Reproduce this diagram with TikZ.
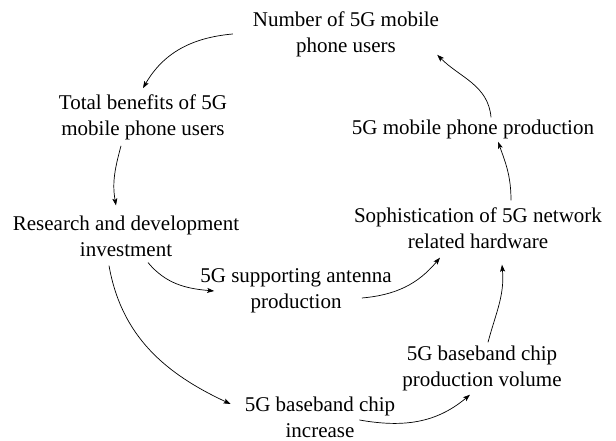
\documentclass[tikz,border=0pt]{standalone}
\usepackage{fontspec}
\setmainfont{Liberation Serif}
\usepackage[]{tikz}
\usetikzlibrary{arrows.meta}

\begin{document}
\begin{tikzpicture}[x=1pt,y=-1pt,
            lbl/.style={align=center,inner sep=0pt,font=\fontsize{21}{26}\selectfont},
            arr/.style={-{Stealth[length=7pt,width=5pt,inset=1.5pt]},line width=0.7pt}]
            \useasboundingbox (0,0) rectangle (616,441);
            \node[lbl] (users) at (346,34) {Number of 5G mobile\\phone users};
            \node[lbl] (benefit) at (143,117) {Total benefits of 5G\\mobile phone users};
            \node[lbl] (invest) at (126,236) {Research and development\\investment};
            \node[lbl] (antenna) at (296,291) {5G supporting antenna\\production};
            \node[lbl] (hardware) at (478,228) {Sophistication of 5G network\\related hardware};
            \node[lbl] (phone) at (473,129) {5G mobile phone production};
            \node[lbl] (chipvol) at (482,368) {5G baseband chip\\production volume};
            \node[lbl] (chip) at (320,417) {5G baseband chip\\increase};
            % feedback loop
            \draw[arr] ([xshift=-20pt]users.west) to[out=185,in=60] ([yshift=6pt]benefit.north);
            \draw[arr] ([xshift=-22pt,yshift=-6pt]benefit.south) to[out=255,in=100] ([xshift=-10pt,yshift=10pt]invest.north);
            \draw[arr] ([xshift=22pt,yshift=-6pt]invest.south) to[out=-50,in=175] ([xshift=14pt]antenna.west);
            \draw[arr] ([xshift=-30pt,yshift=-7pt]antenna.east) to[out=5,in=230] ([xshift=-38pt,yshift=-9pt]hardware.south);
            \draw[arr] ([xshift=-17pt,yshift=-9pt]invest.south) to[out=-80,in=155] ([xshift=-14pt,yshift=13pt]chip.west);
            \draw[arr] ([xshift=-36pt,yshift=-3pt]chip.east) to[out=-10,in=220] ([xshift=-12pt,yshift=-4pt]chipvol.south);
            \draw[arr] ([xshift=6pt,yshift=3pt]chipvol.north) to[out=75,in=-85] ([xshift=24pt,yshift=-16pt]hardware.south);
            \draw[arr] ([xshift=33pt,yshift=7pt]hardware.north) to[out=90,in=-70] ([xshift=25pt,yshift=-3pt]phone.south);
            \draw[arr] ([xshift=18pt,yshift=2pt]phone.north) to[out=95,in=-45] ([xshift=-2pt,yshift=2pt]users.south east);
        \end{tikzpicture}
\end{document}
